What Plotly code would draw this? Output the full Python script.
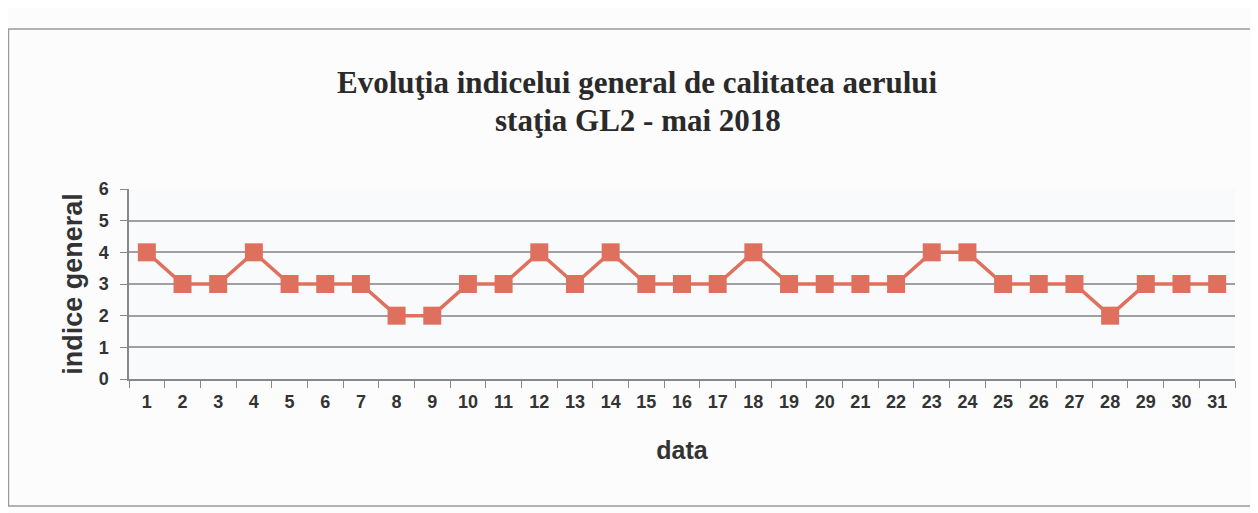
import plotly.graph_objects as go

days = [str(i) for i in range(1, 32)]
indice = [4, 3, 3, 4, 3, 3, 3, 2, 2, 3, 3, 4, 3, 4, 3, 3, 3, 4, 3, 3, 3, 3, 4, 4, 3, 3, 3, 2, 3, 3, 3]
y_ticks = [0, 1, 2, 3, 4, 5, 6]
title_lines = ["Evoluţia indicelui general de calitatea aerului", "staţia GL2 - mai 2018"]

fig = go.Figure()
fig.add_trace(go.Scatter(
    x=days, y=indice, mode="lines+markers",
    line=dict(color="#E0705E", width=3.5),
    marker=dict(symbol="square", size=18, color="#E0705E"),
    showlegend=False,
))

sans = "Liberation Sans, Arial, sans-serif"
serif = "Liberation Serif, Times New Roman, serif"
fig.update_layout(
    width=1250, height=505,
    paper_bgcolor="#FCFCFD", plot_bgcolor="#F9FAFC",
    margin=dict(l=121, r=23, t=181, b=134),
    xaxis=dict(
        type="category", showgrid=False, ticks="outside", tickson="boundaries",
        ticklen=7, tickcolor="#888", showline=True, linecolor="#888", linewidth=1.5,
        tickfont=dict(family=sans, size=18, color="#333", weight="bold"), ticklabelstandoff=6,
        title=dict(text="<b>data</b>", font=dict(family=sans, size=25, color="#333"), standoff=30),
        range=[-0.5, 30.5],
    ),
    yaxis=dict(
        range=[0, 6], tickvals=y_ticks, showgrid=True, gridcolor="#A0A0A0", gridwidth=1.5,
        ticks="outside", ticklen=7, tickcolor="#888", showline=True, linecolor="#888", linewidth=1.5,
        zeroline=False, ticklabelstandoff=8,
        tickfont=dict(family=sans, size=18, color="#333", weight="bold"),
        title=dict(text="<b>indice general</b>", font=dict(family=sans, size=27, color="#333"), standoff=8),
    ),
)

for txt, yy in zip(title_lines, [1.563, 1.358]):
    fig.add_annotation(text="<b>" + txt + "</b>", xref="paper", yref="paper", x=0.46, y=yy,
                       xanchor="center", yanchor="middle", showarrow=False,
                       font=dict(family=serif, size=31, color="#2a2a2a"))

fig.add_shape(type="rect", xref="paper", yref="paper", x0=-0.109, x1=1.03, y0=-0.668, y1=1.842,
              line=dict(color="#999", width=1.5), fillcolor="rgba(0,0,0,0)", layer="below")

fig.write_html("out.html")
